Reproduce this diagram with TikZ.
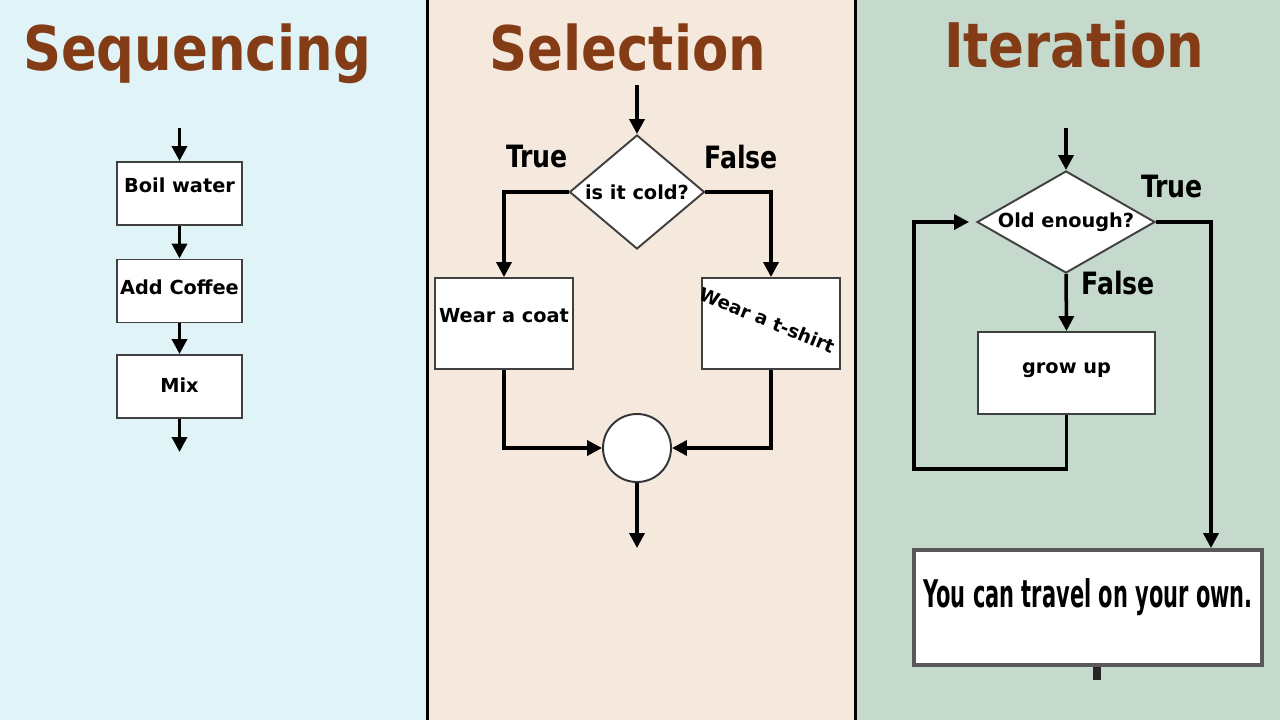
\documentclass[tikz,border=0pt]{standalone}
\usepackage{fontspec}
\setmainfont{DejaVu Sans}
\newfontfamily\titlef{DejaVu Sans}[FakeStretch=0.86]
\newfontfamily\labf{DejaVu Sans}[FakeStretch=0.82]
\newfontfamily\narf{DejaVu Sans}[FakeStretch=0.55]
\usetikzlibrary{shapes.geometric,arrows.meta,calc}
\newdimen\pxu \pxu=0.02cm
\definecolor{seqbg}{HTML}{E0F4F7}
\definecolor{selbg}{HTML}{F5E8DD}
\definecolor{itbg}{HTML}{C5D9CD}
\definecolor{titlebrown}{HTML}{843C16}
\tikzset{
  arr/.style={line width=2pt, -{Triangle[length=8.5pt,width=8.5pt]}},
  boxnode/.style={draw=black!75, fill=white, line width=1.1pt, inner sep=0pt,
    font=\bfseries\fontsize{11}{13}\selectfont},
  decision/.style={diamond, draw=black!75, fill=white, line width=1.1pt, inner sep=0pt,
    font=\bfseries\fontsize{11}{13}\selectfont},
  joint/.style={circle, draw=black!80, fill=white, line width=1.1pt, minimum size=68\pxu, inner sep=0pt},
  title/.style={anchor=base, text=titlebrown, font=\titlef\bfseries\fontsize{35}{40}\selectfont},
  branch/.style={font=\labf\bfseries\fontsize{17.5}{20}\selectfont, text=black, inner sep=0pt},
  divider/.style={line width=1.7pt, black}
}
\begin{document}
\begin{tikzpicture}[x=0.02cm,y=-0.02cm]
\useasboundingbox (0,0) rectangle (1280,720);
% panels
\fill[seqbg] (0,0) rectangle (427,720);
\fill[selbg] (427,0) rectangle (855,720);
\fill[itbg] (855,0) rectangle (1280,720);
\draw[divider] (427,0) -- (427,720);
\draw[divider] (855,0) -- (855,720);
% titles
\node[title] (tseq) at (197,70) {Sequencing};
\node[title] (tsel) at (628,70) {Selection};
\node[title] (tit) at (1074,67) {Iteration};

% ---------- Sequencing ----------
\coordinate (s0) at (179.5,128);
\coordinate (s4) at (179.5,452);
\node[boxnode, minimum width=125\pxu, minimum height=63\pxu, text depth=10pt] (b1) at (179.5,193.5) {Boil water};
\node[boxnode, minimum width=125\pxu, minimum height=63\pxu, text depth=4.5pt] (b2) at (179.5,291) {Add Coffee};
\node[boxnode, minimum width=125\pxu, minimum height=63\pxu, text depth=2pt] (b3) at (179.5,386.5) {Mix};
\draw[arr] (s0) -- (b1.north);
\draw[arr] (b1.south) -- (b2.north);
\draw[arr] (b2.south) -- (b3.north);
\draw[arr] (b3.south) -- (s4);

% ---------- Selection ----------
\coordinate (c0) at (637,85);
\coordinate (c1) at (637,548);
\node[decision, aspect=1.18, minimum width=135\pxu, minimum height=114\pxu] (cold) at (637,192) {is it cold?};
\node[branch] (ltrue) at (537,157) {True};
\node[branch] (lfalse) at (741,157) {False};
\node[boxnode, minimum width=138\pxu, minimum height=91\pxu, text depth=9.6pt] (coat) at (504,323.5) {Wear a coat};
\node[boxnode, minimum width=138\pxu, minimum height=91\pxu] (shirt) at (771,323.5) {};
\node[rotate=-22, font=\bfseries\fontsize{10.5}{12}\selectfont, inner sep=0pt] (shirtt) at (767,320) {Wear a t-shirt};
\node[joint] (join) at (637,448) {};
\draw[arr] (c0) -- (cold.north);
\draw[arr] (cold.west) -| (coat.north);
\draw[arr] (cold.east) -| (shirt.north);
\draw[arr] (coat.south) |- (join.west);
\draw[arr] (shirt.south) |- (join.east);
\draw[arr] (join.south) -- (c1);

% ---------- Iteration ----------
\coordinate (i0) at (1066,128);
\coordinate (lp) at (914,222);
\coordinate (finx) at (1211,0);
\coordinate (stub) at (1097,680);
\node[decision, aspect=1.75, minimum width=178\pxu, minimum height=102\pxu] (old) at (1066,222) {Old enough?};
\node[branch] (itrue) at (1172,187) {True};
\node[branch] (ifalse) at (1118,283) {False};
\node[boxnode, minimum width=177\pxu, minimum height=82\pxu, text depth=6pt] (grow) at (1066.5,373) {grow up};
\node[boxnode, draw=black!65, line width=2.2pt, minimum width=348\pxu, minimum height=115\pxu, text depth=16pt,
      font=\narf\bfseries\fontsize{21.7}{24}\selectfont] (final) at (1088,607.5) {You can travel on your own.};
\draw[arr] (i0) -- (old.north);
\draw[arr] (old.south) -- (grow.north);
\draw[arr, shorten >=4pt] (grow.south) -- ++(0,54) -| (lp) -- (old.west);
\draw[arr] (old.east) -| (final.north -| finx);
\draw[line width=4.5pt, black!85] (final.south -| stub) -- (stub);
\end{tikzpicture}
\end{document}
